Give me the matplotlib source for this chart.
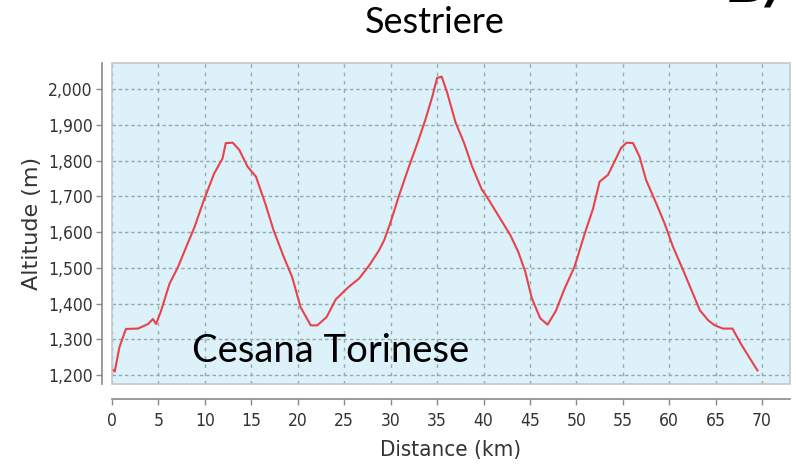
import matplotlib
matplotlib.use("Agg")
import matplotlib.pyplot as plt
from matplotlib import font_manager as fm
from matplotlib.patches import Rectangle
from matplotlib.ticker import FuncFormatter

distance_km = [0.0, 0.3, 0.8, 1.5, 2.8, 3.9, 4.4, 4.75, 5.3, 6.2, 7.1, 8.0, 8.9, 9.9,
               11.0, 11.9, 12.25, 13.0, 13.7, 14.6, 15.5, 16.5, 17.4, 18.5, 19.4, 20.3,
               21.4, 22.1, 23.1, 24.1, 25.5, 26.6, 27.7, 28.75, 29.3, 30.0, 30.9, 32.0,
               32.9, 33.75, 34.5, 35.0, 35.5, 36.1, 37.0, 37.9, 38.75, 39.8, 40.5, 41.6,
               42.9, 43.75, 44.5, 45.2, 46.1, 46.9, 47.8, 48.7, 49.8, 50.9, 51.8, 52.5,
               53.4, 54.1, 54.8, 55.4, 56.1, 56.8, 57.5, 58.6, 59.5, 60.4, 61.5, 62.4,
               63.3, 64.2, 64.9, 65.8, 66.8, 67.7, 68.6, 69.5]
altitude_m = [1217, 1210, 1278, 1329, 1330, 1343, 1357, 1343, 1381, 1456, 1502, 1559, 1615, 1690,
              1764, 1806, 1849, 1850, 1830, 1783, 1755, 1680, 1605, 1530, 1474, 1390,
              1339, 1339, 1362, 1412, 1447, 1470, 1507, 1549, 1577, 1628, 1702, 1785,
              1850, 1915, 1980, 2031, 2035, 1989, 1906, 1850, 1785, 1720, 1693, 1646,
              1591, 1544, 1489, 1415, 1359, 1341, 1380, 1440, 1503, 1596, 1666, 1741,
              1760, 1797, 1835, 1850, 1849, 1811, 1746, 1680, 1624, 1559, 1493, 1437,
              1381, 1353, 1339, 1330, 1330, 1288, 1250, 1213]

x_ticks = list(range(0, 75, 5))
y_ticks = list(range(1200, 2100, 100))

title_text = "Sestriere"
place_label = "Cesana Torinese"
x_label = "Distance (km)"
y_label = "Altitude (m)"
corner_text = "B/"

# condensed axis font if available
have_cond = any(f.name == "DejaVu Sans" and f.stretch == "condensed"
                for f in fm.fontManager.ttflist)
have_narrow = any(f.name == "Liberation Sans Narrow" for f in fm.fontManager.ttflist)
if have_cond:
    axis_font = fm.FontProperties(family="DejaVu Sans", stretch="condensed")
    tick_size, xlab_size = 12.5, 16
elif have_narrow:
    axis_font = fm.FontProperties(family="Liberation Sans Narrow")
    tick_size, xlab_size = 13.5, 17
else:
    axis_font = fm.FontProperties(family="DejaVu Sans")
    tick_size, xlab_size = 10.5, 14

W, H = 796, 469
fig = plt.figure(figsize=(W / 100, H / 100), dpi=100)
L, R, T, B = 112, 790, 63, 384
ax = fig.add_axes([L / W, 1 - B / H, (R - L) / W, (B - T) / H])
ax.set_facecolor("#dcf1fa")

ax.plot(distance_km, altitude_m, color="#e8424b", lw=1.5, zorder=3)

ax.set_xlim(0, 73)
ax.set_ylim(1175, 2073)
ax.set_xticks(x_ticks)
ax.set_yticks(y_ticks)
ax.yaxis.set_major_formatter(FuncFormatter(lambda v, p: f"{int(v):,}"))

ax.grid(True, which="major", axis="y", color="#93aca5", lw=1.0, ls=(0, (2.5, 2)))
ax.grid(True, which="major", axis="x", color="#93aca5", lw=1.0, ls=(0, (2.5, 3.5)))
ax.set_axisbelow(True)

for s in ["top", "right"]:
    ax.spines[s].set_visible(False)
ax.spines["left"].set_position(("outward", 7))
ax.spines["bottom"].set_position(("outward", 11))
for s in ["left", "bottom"]:
    ax.spines[s].set_color("#8a8a8a")
    ax.spines[s].set_linewidth(1.2)
ax.add_patch(Rectangle((0, 0), 1, 1, transform=ax.transAxes, fill=False,
                       edgecolor="#c4c8c8", lw=1.2, zorder=4, clip_on=False))

ax.tick_params(axis="both", colors="#8a8a8a", labelcolor="#333333", length=4, width=1)
ax.tick_params(axis="x", pad=5)
ax.tick_params(axis="y", pad=3)
for lab in ax.get_xticklabels() + ax.get_yticklabels():
    lab.set_fontproperties(axis_font)
    lab.set_fontsize(tick_size)

ax.set_xlabel(x_label, fontproperties=axis_font, fontsize=xlab_size, color="#333333",
              labelpad=7)
ax.set_ylabel(y_label, family="DejaVu Sans", fontsize=16, color="#333333", labelpad=4)

fig.text(435 / W, 1 - 33 / H, title_text, fontsize=26, family="Lato",
         ha="center", va="baseline", color="black")
fig.text(192 / W, 1 - 362 / H, place_label, fontsize=27.5, family="Lato",
         ha="left", va="baseline", color="black", zorder=5)
fig.text(728 / W, 1 - 1.5 / H, corner_text, fontsize=40, family="DejaVu Sans",
         fontweight="bold", style="italic", ha="left", va="baseline", color="black")

fig.savefig("out.png", dpi=100)
